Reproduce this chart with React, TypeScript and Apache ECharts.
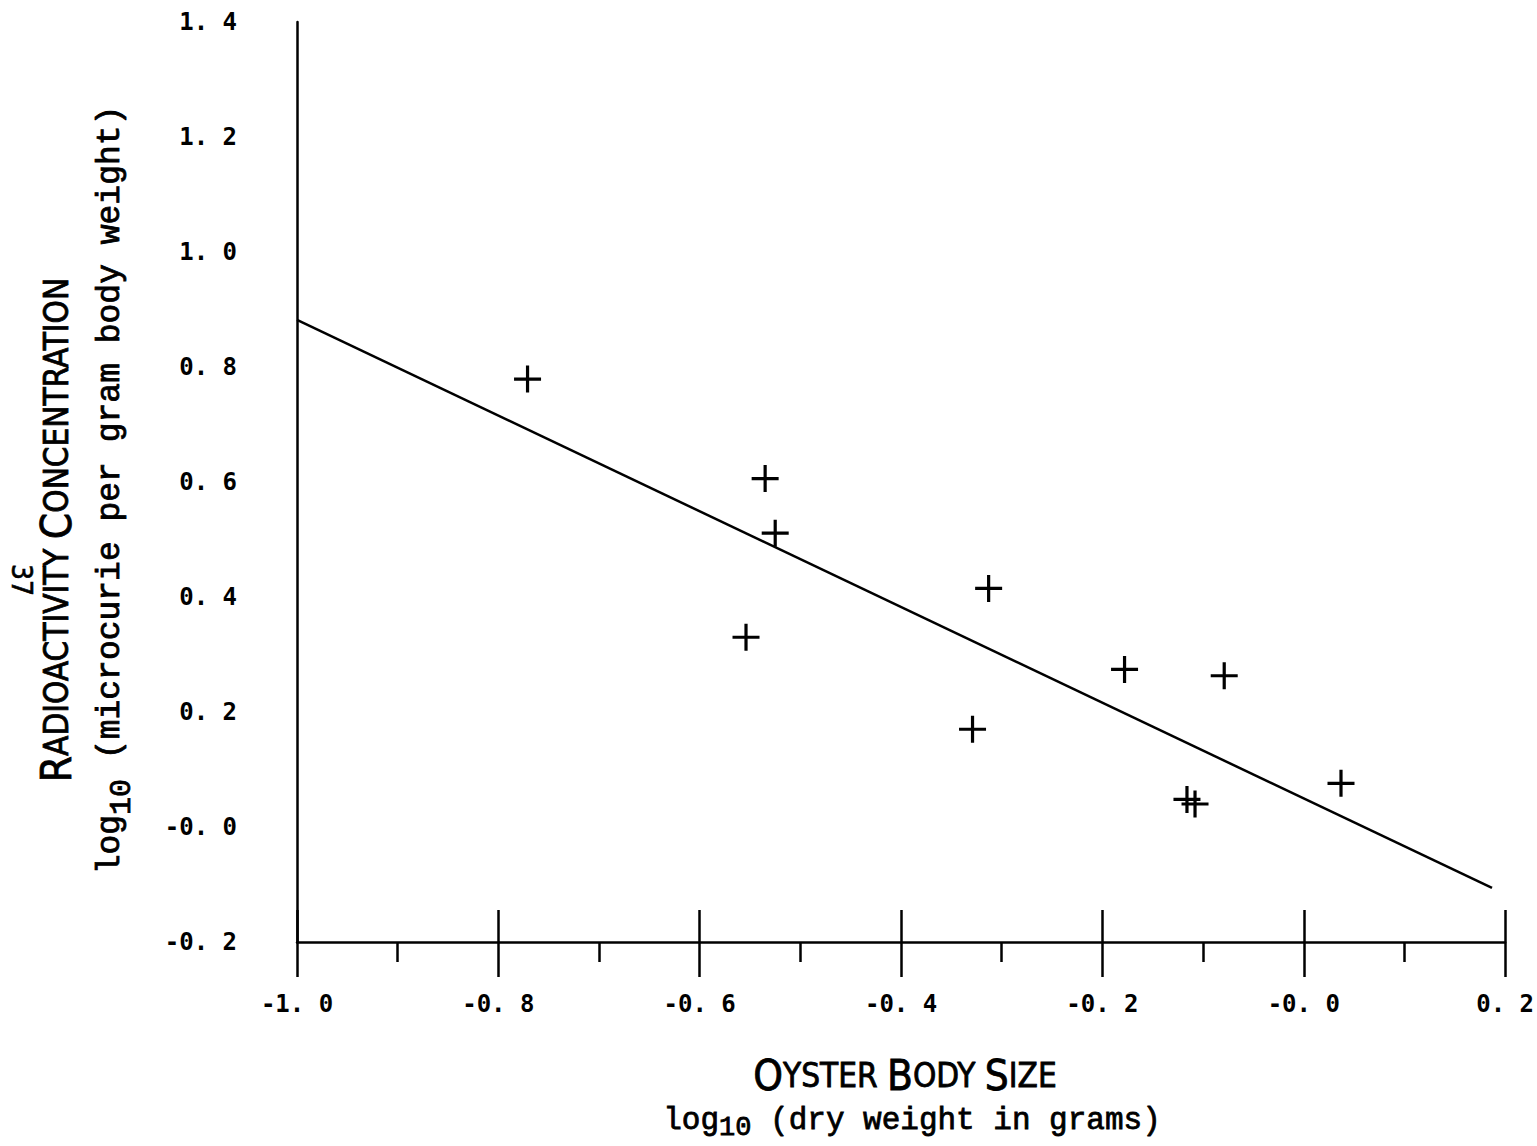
import React, { useEffect, useRef } from "react";
import * as echarts from "echarts";

// Data (log10 dry weight vs log10 concentration)
const xValues = [-0.771, -0.535, -0.525, -0.554, -0.313, -0.329, -0.178, -0.079, -0.116, -0.108, 0.037];
const yValues = [0.779, 0.606, 0.511, 0.330, 0.415, 0.170, 0.274, 0.263, 0.048, 0.040, 0.076];
const fitX = [-1.0, 0.187];
const fitY = [0.882, -0.106];

const xTickValues = [-1.0, -0.8, -0.6, -0.4, -0.2, 0.0, 0.2];
const xTickLabels = ["-1. 0", "-0. 8", "-0. 6", "-0. 4", "-0. 2", "-0. 0", "0. 2"];
const yTickValues = [-0.2, 0.0, 0.2, 0.4, 0.6, 0.8, 1.0, 1.2, 1.4];
const yTickLabels = ["-0. 2", "-0. 0", "0. 2", "0. 4", "0. 6", "0. 8", "1. 0", "1. 2", "1. 4"];

const MONO = "'DejaVu Sans Mono', monospace";
const TYPE = "'Liberation Mono', 'DejaVu Sans Mono', monospace";
const NARROW = "'Liberation Sans Narrow', 'DejaVu Sans Condensed', 'DejaVu Sans', sans-serif";

const lookup = (vals: number[], labels: string[]) => (v: number) => {
  const r = Math.round(v * 10) / 10;
  const i = vals.findIndex((t) => Math.abs(t - r) < 1e-6);
  return i >= 0 ? labels[i] : "";
};

const CROSS = "path://M-1.6,-13.5H1.6V-1.6H13.5V1.6H1.6V13.5H-1.6V1.6H-13.5V-1.6H-1.6Z";

export default function App() {
  const ref = useRef<HTMLDivElement>(null);
  useEffect(() => {
    if (!ref.current) return;
    const chart = echarts.init(ref.current, null, { renderer: "svg" });
    const scatterData = xValues.map((x, i) => [x, yValues[i]]);
    const lineData = fitX.map((x, i) => [x, fitY[i]]);
    const tickLabel = {
      color: "#000",
      fontFamily: MONO,
      fontSize: 24,
      fontWeight: "bold" as const,
    };
    chart.setOption({
      animation: false,
      backgroundColor: "#fff",
      grid: { left: 297, right: 27, top: 22, bottom: 204 },
      xAxis: [
        {
          type: "value",
          min: -1.0,
          max: 0.2,
          interval: 0.2,
          position: "bottom",
          splitLine: { show: false },
          axisLine: { show: true, onZero: false, lineStyle: { color: "#000", width: 2.5 } },
          axisTick: { show: true, length: 35, lineStyle: { color: "#000", width: 2.5 } },
          minorTick: { show: true, splitNumber: 2, length: 20, lineStyle: { color: "#000", width: 2.5 } },
          axisLabel: { ...tickLabel, margin: 50, formatter: lookup(xTickValues, xTickLabels) },
        },
        {
          type: "value",
          min: -1.0,
          max: 0.2,
          interval: 0.2,
          position: "bottom",
          offset: 0,
          splitLine: { show: false },
          axisLine: { show: false, onZero: false },
          axisTick: { show: true, inside: true, length: 32, lineStyle: { color: "#000", width: 2.5 } },
          axisLabel: { show: false },
        },
      ],
      yAxis: {
        type: "value",
        min: -0.2,
        max: 1.4,
        interval: 0.2,
        splitLine: { show: false },
        axisLine: { show: true, onZero: false, lineStyle: { color: "#000", width: 2.5 } },
        axisTick: { show: false },
        axisLabel: { ...tickLabel, margin: 60, formatter: lookup(yTickValues, yTickLabels) },
      },
      series: [
        {
          type: "line",
          data: lineData,
          showSymbol: false,
          symbol: "none",
          lineStyle: { color: "#000", width: 2.5 },
        },
        {
          type: "scatter",
          data: scatterData,
          symbol: CROSS,
          symbolSize: 27,
          itemStyle: { color: "#000", opacity: 1 },
        },
      ],
      graphic: [
        {
          type: "text",
          x: 21,
          y: 580,
          rotation: -Math.PI / 2,
          style: { text: "37", fontFamily: NARROW, fontSize: 28, fill: "#000", stroke: "#000", lineWidth: 0.6, align: "center", verticalAlign: "middle" },
        },
        {
          type: "text",
          x: 56,
          y: 530,
          rotation: Math.PI / 2,
          style: {
            text: "{b|R}{s|ADIOACTIVITY }{b|C}{s|ONCENTRATION}",
            align: "center",
            verticalAlign: "middle",
            fill: "#000",
            rich: {
              b: { fontFamily: NARROW, fontSize: 42, fill: "#000", stroke: "#000", lineWidth: 0.8 },
              s: { fontFamily: NARROW, fontSize: 33, fill: "#000", stroke: "#000", lineWidth: 0.8 },
            },
          },
        },
        {
          type: "text",
          x: 110,
          y: 490,
          rotation: Math.PI / 2,
          style: {
            text: "log{sub|10} (microcurie per gram body weight)",
            align: "center",
            verticalAlign: "middle",
            fill: "#000",
            fontFamily: TYPE,
            fontSize: 33,
            stroke: "#000",
            lineWidth: 0.8,
            rich: {
              sub: { fontFamily: TYPE, fontSize: 30, stroke: "#000", lineWidth: 0.8, padding: [24, 0, 0, 0] },
            },
          },
        },
        {
          type: "text",
          x: 905,
          y: 1075,
          style: {
            text: "{b|O}{s|YSTER }{b|B}{s|ODY }{b|S}{s|IZE}",
            align: "center",
            verticalAlign: "middle",
            fill: "#000",
            rich: {
              b: { fontFamily: NARROW, fontSize: 42, fill: "#000", stroke: "#000", lineWidth: 0.8 },
              s: { fontFamily: NARROW, fontSize: 33, fill: "#000", stroke: "#000", lineWidth: 0.8 },
            },
          },
        },
        {
          type: "text",
          x: 912,
          y: 1120,
          style: {
            text: "log{sub|10} (dry weight in grams)",
            align: "center",
            verticalAlign: "middle",
            fill: "#000",
            fontFamily: TYPE,
            fontSize: 31,
            stroke: "#000",
            lineWidth: 0.8,
            rich: {
              sub: { fontFamily: TYPE, fontSize: 27, stroke: "#000", lineWidth: 0.8, padding: [16, 0, 0, 0] },
            },
          },
        },
      ],
    });
    return () => chart.dispose();
  }, []);
  return <div ref={ref} style={{ position: "absolute", left: 0, top: 0, width: 1537, height: 1146 }} />;
}
